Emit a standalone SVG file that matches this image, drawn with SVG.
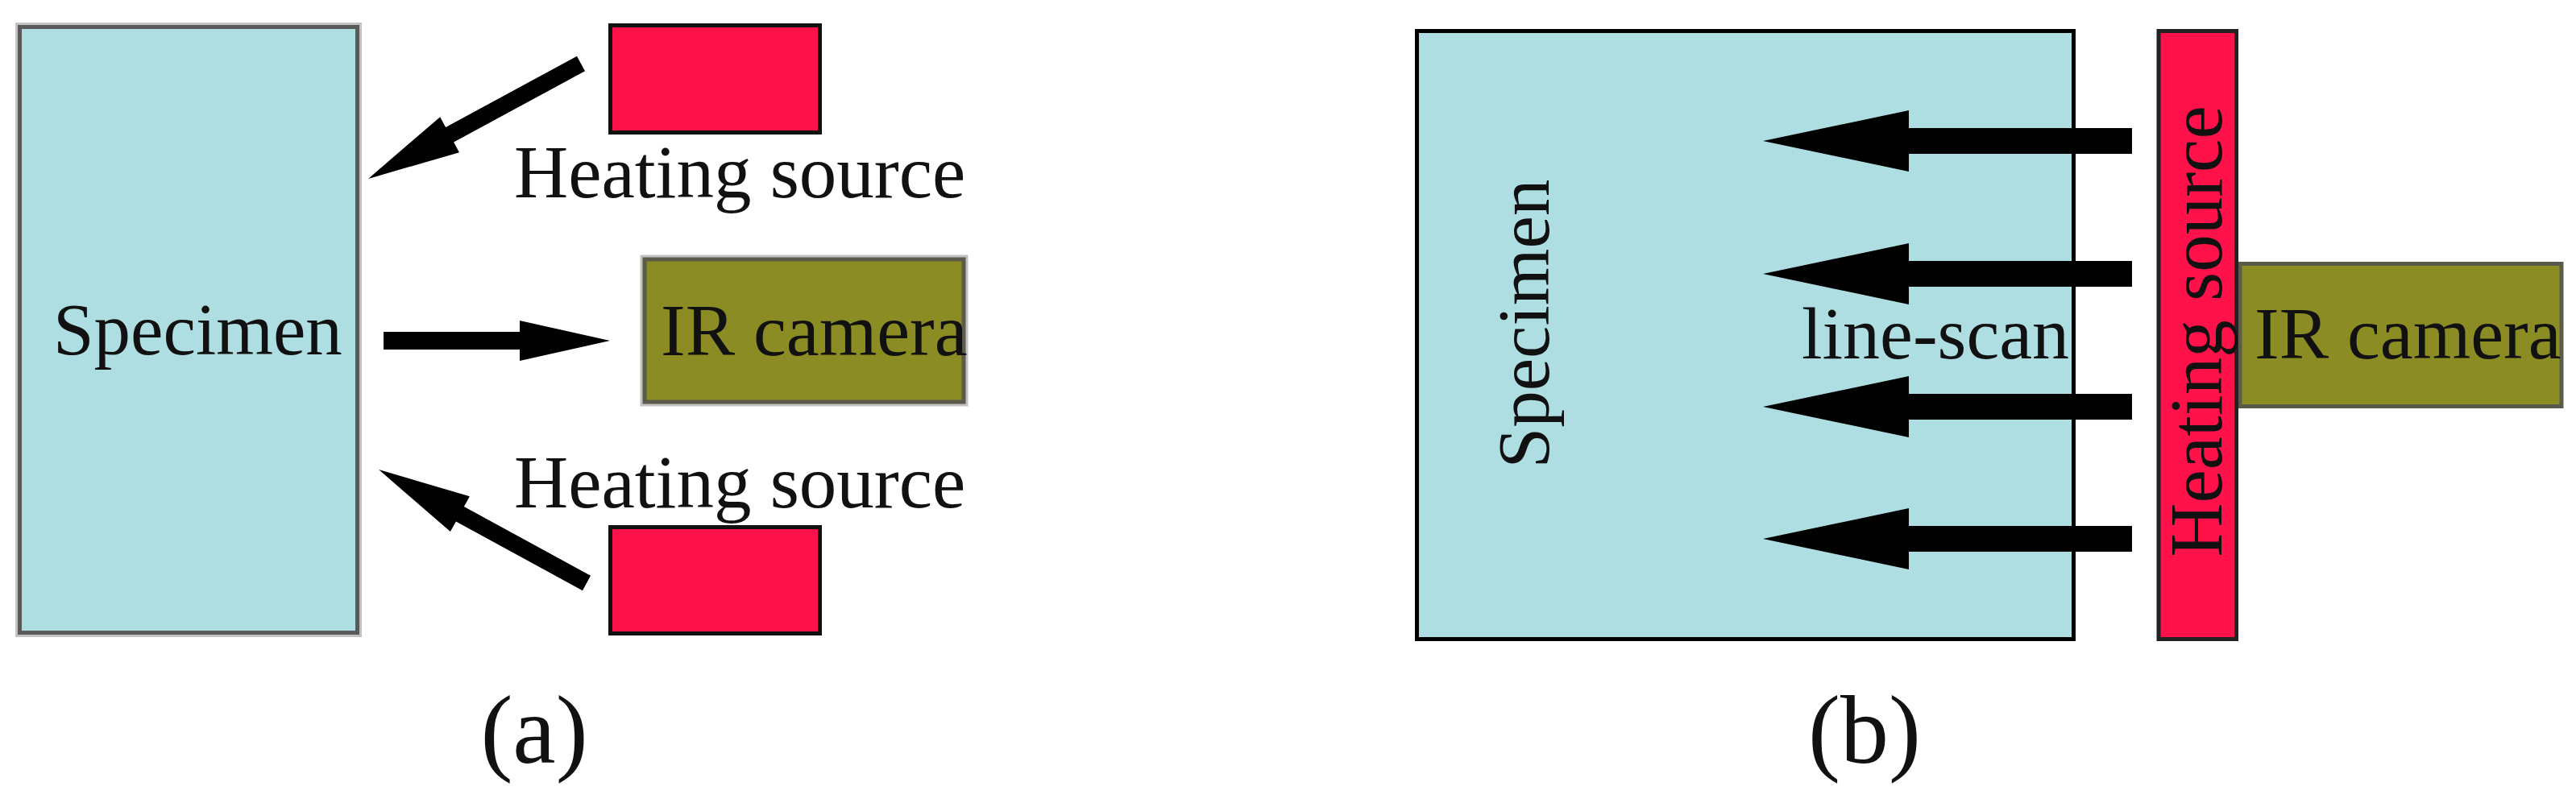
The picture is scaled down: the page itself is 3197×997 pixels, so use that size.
<svg xmlns="http://www.w3.org/2000/svg" width="3197" height="997" viewBox="0 0 3197 997">
<style>
.txt{font-family:"Liberation Serif","Times New Roman",serif;fill:#111}
.spec{fill:#AEDEE1}
.heat{fill:#FF1249}
.cam{fill:#8B8C24}
.halo{fill:none;stroke:#c2c2c2;stroke-width:11}
.arrow{fill:#000}
</style>
<defs>
<path id="barrowB" d="M0,-16 H-277 V-38 L-458,0 L-277,38 V16 H0 Z"/>
</defs>
<rect width="3197" height="997" fill="#fff"/>

<!-- Panel (a) -->
<g id="specimen-a">
<rect class="halo" x="24.5" y="33.5" width="419" height="752"/>
<rect class="spec" x="24.5" y="33.5" width="419" height="752" stroke="#5a5a5a" stroke-width="5"/>
<text class="txt" x="66" y="440" font-size="91">Specimen</text>
</g>
<g id="heat-a-top">
<rect class="heat" x="757.5" y="31.5" width="260" height="133" stroke="#111" stroke-width="5"/>
<text class="txt" x="638" y="245" font-size="93">Heating source</text>
</g>
<g id="camera-a">
<rect class="halo" x="800" y="322" width="396" height="177"/>
<rect class="cam" x="800" y="322" width="396" height="177" stroke="#5b5b4b" stroke-width="5"/>
<text class="txt" x="820" y="441" font-size="92">IR camera</text>
</g>
<g id="heat-a-bottom">
<text class="txt" x="638" y="630" font-size="93">Heating source</text>
<rect class="heat" x="757.5" y="654.5" width="260" height="132" stroke="#111" stroke-width="5"/>
</g>
<text id="label-a" class="txt" x="663" y="947" font-size="120" text-anchor="middle">(a)</text>

<!-- Panel (b) -->
<g id="specimen-b">
<rect class="spec" x="1758.5" y="38.5" width="815" height="755" stroke="#000" stroke-width="5"/>
<text class="txt" transform="translate(1922,402) rotate(-90)" font-size="91" text-anchor="middle">Specimen</text>
<text class="txt" x="2236" y="445" font-size="92">line-scan</text>
</g>
<g id="camera-b">
<rect class="cam" x="2780" y="327.5" width="399" height="177" stroke="#5b5b4b" stroke-width="5"/>
<text class="txt" x="2798" y="445" font-size="92">IR camera</text>
</g>
<g id="heat-b">
<rect class="heat" x="2679" y="38.5" width="96.5" height="755" stroke="#222" stroke-width="5"/>
<text class="txt" transform="translate(2757,411.5) rotate(-90)" font-size="93" text-anchor="middle">Heating source</text>
</g>
<text id="label-b" class="txt" x="2314" y="947" font-size="120" text-anchor="middle">(b)</text>

<g id="connectors">
<polygon class="arrow" points="476,412 645,412 645,398 757,423 645,448 645,434 476,434"/>
<polygon class="arrow" points="716.0,69.8 553.1,158.0 546.2,145.2 457,222 570.0,189.2 563.1,176.4 726.0,88.2"/>
<polygon class="arrow" points="733.0,714.8 575.9,629.0 582.9,616.3 470,583 558.9,660.1 565.9,647.4 723.0,733.2"/>
<use href="#barrowB" class="arrow" transform="translate(2646,175)"/>
<use href="#barrowB" class="arrow" transform="translate(2646,340)"/>
<use href="#barrowB" class="arrow" transform="translate(2646,505)"/>
<use href="#barrowB" class="arrow" transform="translate(2646,669)"/>
</g>
</svg>
